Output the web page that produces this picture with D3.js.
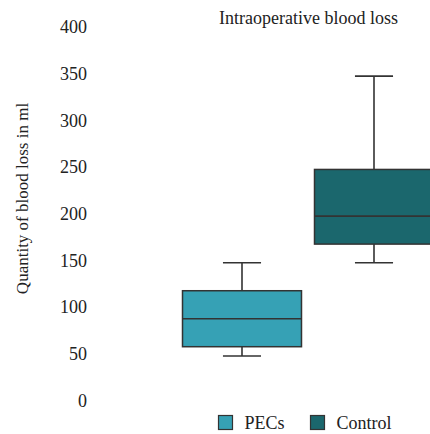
<!DOCTYPE html>
<html>
<head>
<meta charset="utf-8">
<script src="https://cdn.jsdelivr.net/npm/d3@7"></script>
<style>
  html, body { margin: 0; padding: 0; background: #fff; }
  svg { display: block; }
</style>
</head>
<body>
<svg id="chart" width="430" height="434"></svg>
<script>
// Groups and their five-number summaries (ml)
const groups = ["PECs", "Control"];
const whiskerLow = [50, 150];
const quartile1 = [60, 170];
const medians = [90, 200];
const quartile3 = [120, 250];
const whiskerHigh = [150, 350];
const groupColors = ["#36a1b5", "#1b676d"];
const yTicks = [0, 50, 100, 150, 200, 250, 300, 350, 400];

const FONT = "'Liberation Serif', 'DejaVu Serif', Times, serif";
const svg = d3.select("#chart");
const stroke = "#333";
const ink = "#222";

const y = d3.scaleLinear().domain([0, 400]).range([402.7, 29.5]);
const x = d3.scaleBand().domain(groups).range([182.5, 433.5]).paddingInner(0.0985);

// Y axis: labels only, no line or tick marks
const yAxis = svg.append("g")
  .attr("transform", "translate(92,0)")
  .call(d3.axisLeft(y).tickValues(yTicks).tickSize(0).tickPadding(5));
yAxis.attr("font-family", null).attr("font-size", null);
yAxis.select(".domain").remove();
yAxis.selectAll("text")
  .attr("dy", "0.19em")
  .attr("font-family", FONT)
  .attr("font-size", 18)
  .attr("fill", ink);

svg.append("text")
  .attr("transform", "translate(28,198.5) rotate(-90)")
  .attr("text-anchor", "middle")
  .attr("font-family", FONT).attr("font-size", 17).attr("fill", ink)
  .text("Quantity of blood loss in ml");

svg.append("text")
  .attr("x", 308.5).attr("y", 24)
  .attr("text-anchor", "middle")
  .attr("font-family", FONT).attr("font-size", 18).attr("fill", ink)
  .text("Intraoperative blood loss");

// Box plots
const data = groups.map((g, i) => ({
  g, lo: whiskerLow[i], q1: quartile1[i], med: medians[i],
  q3: quartile3[i], hi: whiskerHigh[i], color: groupColors[i]
}));

const bw = x.bandwidth();
const capW = bw * 0.32;
const box = svg.append("g").selectAll("g").data(data).join("g")
  .attr("transform", d => `translate(${x(d.g)},0)`);

// whisker stems
box.append("line")
  .attr("x1", bw / 2).attr("x2", bw / 2)
  .attr("y1", d => y(d.hi)).attr("y2", d => y(d.q3))
  .attr("stroke", stroke).attr("stroke-width", 1.6);
box.append("line")
  .attr("x1", bw / 2).attr("x2", bw / 2)
  .attr("y1", d => y(d.q1)).attr("y2", d => y(d.lo))
  .attr("stroke", stroke).attr("stroke-width", 1.6);
// whisker caps
box.append("line")
  .attr("x1", bw / 2 - capW / 2).attr("x2", bw / 2 + capW / 2)
  .attr("y1", d => y(d.hi)).attr("y2", d => y(d.hi))
  .attr("stroke", stroke).attr("stroke-width", 1.6);
box.append("line")
  .attr("x1", bw / 2 - capW / 2).attr("x2", bw / 2 + capW / 2)
  .attr("y1", d => y(d.lo)).attr("y2", d => y(d.lo))
  .attr("stroke", stroke).attr("stroke-width", 1.6);
// interquartile box
box.append("rect")
  .attr("x", 0).attr("width", bw)
  .attr("y", d => y(d.q3)).attr("height", d => y(d.q1) - y(d.q3))
  .attr("fill", d => d.color)
  .attr("stroke", stroke).attr("stroke-width", 1.5);
// median
box.append("line")
  .attr("x1", 0).attr("x2", bw)
  .attr("y1", d => y(d.med)).attr("y2", d => y(d.med))
  .attr("stroke", stroke).attr("stroke-width", 1.6);

// Legend
const legendX = [218.5, 310.5];
const legend = svg.append("g").selectAll("g").data(data).join("g")
  .attr("transform", (d, i) => `translate(${legendX[i]},415.5)`);
legend.append("rect")
  .attr("width", 14).attr("height", 14)
  .attr("fill", d => d.color)
  .attr("stroke", stroke).attr("stroke-width", 1.2);
legend.append("text")
  .attr("x", 26).attr("y", 13)
  .attr("font-family", FONT).attr("font-size", 18).attr("fill", ink)
  .text(d => d.g);
</script>
</body>
</html>
